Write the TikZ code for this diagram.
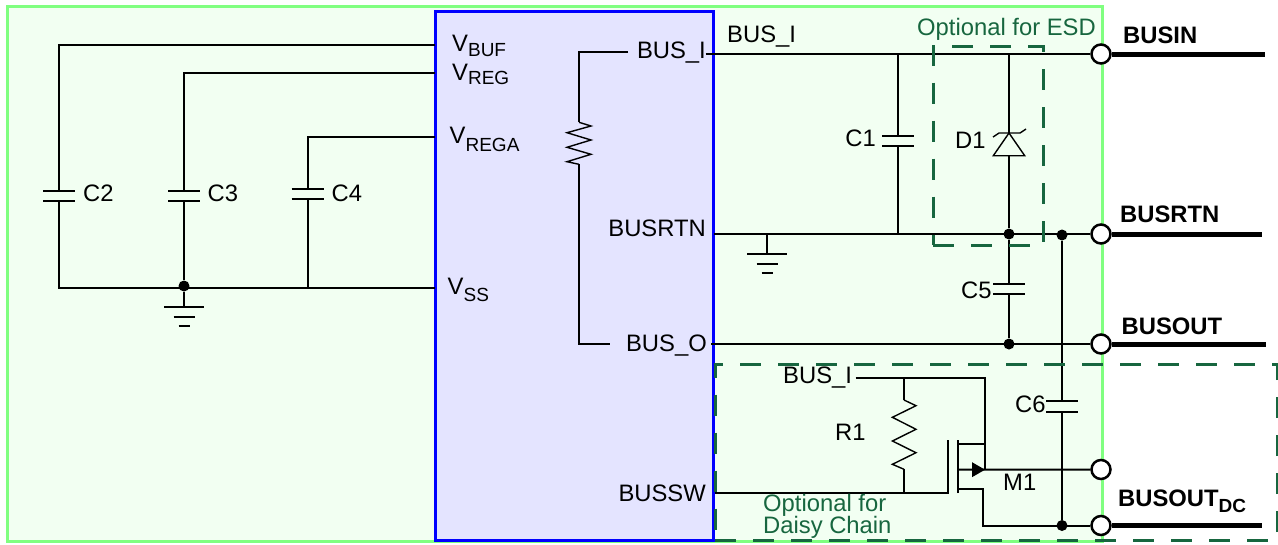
\documentclass[tikz,border=0pt]{standalone}
\usepackage{fontspec}
\setmainfont{Liberation Sans}
\definecolor{boardgreen}{HTML}{F2FFF2}
\definecolor{boardline}{HTML}{80FF80}
\definecolor{chipblue}{HTML}{E4E4FF}
\definecolor{optgreen}{HTML}{17663F}
\newcommand{\lowtext}[2]{\lower#1pt\hbox{\fontsize{19}{20}\selectfont #2}}
\begin{document}
\begin{tikzpicture}[x=1pt,y=-1pt,line cap=butt]
    \tikzstyle{every node}=[inner sep=0pt,font=\fontsize{23.8}{26}\selectfont]
    \tikzstyle{wire}=[draw=black,line width=2pt]
    \tikzstyle{thinwire}=[draw=black,line width=1.4pt]
    \tikzstyle{bus}=[draw=black,line width=5pt]
    \tikzstyle{term}=[circle,draw=black,fill=white,line width=2.5pt,minimum size=19pt]
    \tikzstyle{junction}=[circle,fill=black,minimum size=11pt]
    \tikzstyle{optbox}=[draw=optgreen,line width=3pt,dash pattern=on 21pt off 17pt]
    \tikzstyle{txt}=[anchor=base west]
    \tikzstyle{rtxt}=[anchor=base east]
    \tikzstyle{opt}=[anchor=base west,text=optgreen]
    \tikzstyle{boldtxt}=[anchor=base west,font=\fontsize{23.8}{26}\selectfont\bfseries]

    \useasboundingbox (0,0) rectangle (1278,544);

    \node[draw=boardline,fill=boardgreen,line width=3pt,minimum width=1095pt,minimum height=535pt] (board) at (554.5,273.5) {};
    \node[draw=blue,fill=chipblue,line width=3pt,minimum width=278pt,minimum height=529pt] (chip) at (574.5,276) {};

    % terminals
    \node[term] (T-in) at (1101,54) {};
    \node[term] (T-rtn) at (1101,234) {};
    \node[term] (T-out) at (1101,344) {};
    \node[term] (T-sw) at (1101,469.5) {};
    \node[term] (T-dc) at (1101,525.5) {};

    \coordinate (E-in) at (1265,54);
    \coordinate (E-rtn) at (1262,234);
    \coordinate (E-out) at (1266,344);
    \coordinate (E-dc) at (1262,525.5);
    \foreach \t in {in,rtn,out,dc}
    \draw[bus] (T-\t) -- (E-\t);

    % capacitors
    \foreach \c/\x/\y/\g in {C2/59/191/10,C3/184/191/10,C4/307.5/189/10,C1/898/136/10,C5/1009/284/10,C6/1062/401/11}
    {
      \coordinate (\c-a) at (\x,\y);
      \coordinate (\c-b) at (\x,\y+\g);
      \draw[wire] ([xshift=-16pt]\c-a) -- ([xshift=16pt]\c-a);
      \draw[wire] ([xshift=-16pt]\c-b) -- ([xshift=16pt]\c-b);
    }

    % left side
    \coordinate (P-buf) at (435,44.7);
    \coordinate (P-reg) at (435,72.7);
    \coordinate (P-rega) at (435,136.7);
    \coordinate (P-ss) at (435,287.5);
    \node[junction] (J-gnd) at (184,286) {};
    \coordinate (G-1) at (184,306.7);
    \coordinate (C4-bot) at (307.5,287.5);

    \draw[wire] (P-buf) -| (C2-a);
    \draw[wire] (P-reg) -| (C3-a);
    \draw[wire] (P-rega) -| (C4-a);
    \draw[wire] (C2-b) |- (P-ss);
    \draw[wire] (C3-b) -- (J-gnd);
    \draw[wire] (C4-b) -- (C4-bot);
    \draw[wire] (J-gnd) -- (G-1);

    % grounds
    \coordinate (G-2) at (767,253.7);
    \coordinate (G-2t) at (767,234);
    \foreach \g in {1,2}
    {
      \draw[wire] ([xshift=-20pt]G-\g) -- ([xshift=20pt]G-\g);
      \draw[wire] ([xshift=-10.5pt,yshift=-10pt]G-\g) -- ([xshift=10.5pt,yshift=-10pt]G-\g);
      \draw[wire] ([xshift=-5.5pt,yshift=-19.5pt]G-\g) -- ([xshift=5.5pt,yshift=-19.5pt]G-\g);
    }
    \draw[wire] (G-2t) -- (G-2);

    % inside the chip
    \coordinate (R2-in) at (628,52);
    \coordinate (R2-a) at (579,122.3);
    \coordinate (R2-b) at (579,164.3);
    \coordinate (R2-out) at (610,343.7);
    \draw[wire] (R2-in) -| (R2-a);
    \draw[thinwire] (R2-a) -- ++(12,3.7) -- ++(-24,6.7) -- ++(24,7.3) -- ++(-24,7.3) -- ++(24,7) -- ++(-24,7.4) -- (R2-b);
    \draw[wire] (R2-b) |- (R2-out);

    % right side
    \coordinate (P-busi) at (705.5,54);
    \coordinate (P-rtn) at (714,234);
    \coordinate (P-buso) at (711,344);
    \node[junction] (J-d1) at (1009,234) {};
    \node[junction] (J-c6) at (1062,235) {};
    \node[junction] (J-c5) at (1009,344) {};
    \node[junction] (J-dc) at (1062,525.5) {};
    \coordinate (C1-top) at (898,54);
    \coordinate (C1-bot) at (898,235);
    \coordinate (D1-top) at (1009,54);
    \coordinate (D1-k) at (1009,133);
    \coordinate (D1-a) at (1009,155.7);

    \draw[wire] (P-busi) -- (T-in);
    \draw[wire] (P-rtn) -- (T-rtn);
    \draw[wire] (P-buso) -- (T-out);
    \draw[wire] (C1-top) -- (C1-a);
    \draw[wire] (C1-b) -- (C1-bot);
    \draw[wire] (D1-top) -- (D1-k);
    \draw[wire] (D1-a) -- (J-d1);
    \draw[thinwire] (D1-k) -- ++(-15.7,22.7) -- ++(31.4,0) -- cycle;
    \draw[thinwire] ([xshift=-16pt,yshift=-4pt]D1-k) -- ([xshift=-10pt]D1-k) -- ([xshift=11pt]D1-k) -- ([xshift=17pt,yshift=4pt]D1-k);
    \draw[wire] (J-d1) -- (C5-a);
    \draw[wire] (C5-b) -- (J-c5);
    \draw[wire] (J-c6) -- (C6-a);
    \draw[wire] (C6-b) -- (J-dc);

    % daisy chain part
    \coordinate (M-in) at (855.5,378);
    \coordinate (M-d) at (985,378);
    \coordinate (M-dg) at (958,444);
    \coordinate (M-s) at (958,469.7);
    \coordinate (M-j) at (985,469.7);
    \coordinate (M-b) at (958,489);
    \coordinate (M-bc) at (983,489);
    \coordinate (M-g) at (948,492.7);
    \coordinate (M-gt) at (948,440);
    \coordinate (M-cb) at (958,493);
    \coordinate (M-ct) at (958,440);
    \coordinate (P-sw) at (715,492.7);
    \coordinate (R1-top) at (904,378);
    \coordinate (R1-a) at (904,400);
    \coordinate (R1-b) at (904,469.3);
    \coordinate (R1-bot) at (904,492.7);

    \draw[wire] (M-in) -- (M-d) |- (M-dg);
    \draw[wire] (M-d) -- (M-j);
    \draw[wire] (R1-top) -- (R1-a);
    \draw[thinwire] (R1-a) -- ++(12,5.7) -- ++(-23.6,11.6) -- ++(23.6,12) -- ++(-23.6,11.7) -- ++(23.6,11.7) -- ++(-23.6,11.6) -- (R1-b);
    \draw[wire] (R1-b) -- (R1-bot);
    \draw[wire] (P-sw) -- (M-g) -- (M-gt);
    \draw[wire] (M-cb) -- (M-ct);
    \draw[wire] (M-s) -- (T-sw);
    \fill[black] (M-j) -- ++(-13,-7.5) -- ++(0,15) -- cycle;
    \draw[wire] (M-b) -- (M-bc) |- (T-dc);

    % optional areas
    \node[optbox,minimum width=110.4pt,minimum height=199pt] (esd) at (988.5,145.8) {};
    \node[optbox,minimum width=562pt,minimum height=175.7pt] (daisy) at (996,452.2) {};

    % texts
    \node[txt] (L-buf) at (452,51.5) {V\lowtext{4.5}{BUF}};
    \node[txt] (L-reg) at (452,80) {V\lowtext{4.5}{REG}};
    \node[txt] (L-rega) at (449.5,143.5) {V\lowtext{8}{REGA}};
    \node[txt] (L-ss) at (447.5,294) {V\lowtext{7}{SS}};
    \node[txt] (L-c2) at (83,201.5) {C2};
    \node[txt] (L-c3) at (207.5,201.5) {C3};
    \node[txt] (L-c4) at (331.5,201.5) {C4};
    \node[rtxt] (L-busi) at (706,58.3) {BUS\_I};
    \node[rtxt] (L-rtn) at (706,236.7) {BUSRTN};
    \node[rtxt] (L-buso) at (707,351) {BUS\_O};
    \node[rtxt] (L-sw) at (706,501) {BUSSW};
    \node[txt] (L-top) at (727,42.3) {BUS\_I};
    \node[rtxt] (L-c1) at (876,146) {C1};
    \node[txt] (L-d1) at (955,148) {D1};
    \node[txt] (L-c5) at (961,298) {C5};
    \node[txt] (L-c6) at (1015,412) {C6};
    \node[txt] (L-m1) at (1003,490.7) {M1};
    \node[txt] (L-r1) at (835,440.7) {R1};
    \node[txt] (L-m) at (783,383.3) {BUS\_I};
    \node[opt] (L-esd) at (917,35) {Optional for ESD};
    \node[opt] (L-o1) at (763,511.7) {Optional for};
    \node[opt] (L-o2) at (763,533) {Daisy Chain};
    \node[boldtxt] (N-in) at (1123,43.3) {BUSIN};
    \node[boldtxt] (N-rtn) at (1120,222.7) {BUSRTN};
    \node[boldtxt] (N-out) at (1121.5,334) {BUSOUT};
    \node[boldtxt] (N-dc) at (1118,506) {BUSOUT\lowtext{6}{\bfseries DC}};
\end{tikzpicture}
\end{document}
